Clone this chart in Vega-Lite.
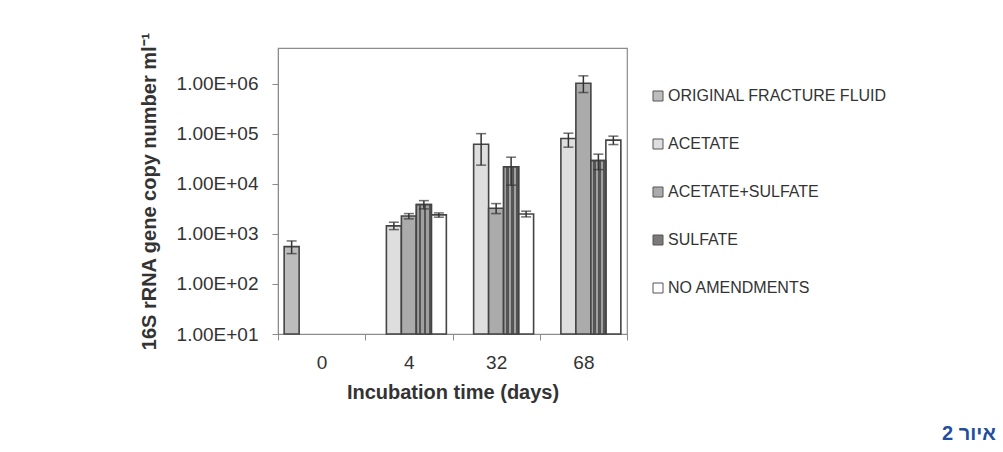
{
  "$schema": "https://vega.github.io/schema/vega-lite/v6.json",
  "width": 349,
  "height": 286,
  "autosize": {"type": "none"},
  "padding": {"left": 278, "top": 48, "right": 376, "bottom": 118},
  "background": "white",
  "config": {
    "font": "Liberation Sans",
    "view": {"stroke": "#8c8c8c", "strokeWidth": 1.2}
  },
  "title": {
    "text": "איור 2",
    "orient": "bottom",
    "anchor": "end",
    "frame": "group",
    "color": "#1f4ea0",
    "fontSize": 20,
    "fontWeight": "bold",
    "font": "Liberation Sans",
    "dx": 369,
    "offset": 22
  },
  "data": {
    "values": [
      {"day": 0, "series": "ORIGINAL FRACTURE FLUID", "value": 557, "lo": 404, "hi": 724},
      {"day": 4, "series": "ACETATE", "value": 1450, "lo": 1220, "hi": 1715},
      {"day": 4, "series": "ACETATE+SULFATE", "value": 2290, "lo": 2000, "hi": 2550},
      {"day": 4, "series": "SULFATE", "value": 3850, "lo": 3160, "hi": 4630},
      {"day": 4, "series": "NO AMENDMENTS", "value": 2400, "lo": 2160, "hi": 2630},
      {"day": 32, "series": "ACETATE", "value": 62000, "lo": 23700, "hi": 101000},
      {"day": 32, "series": "ACETATE+SULFATE", "value": 3270, "lo": 2550, "hi": 4040},
      {"day": 32, "series": "SULFATE", "value": 21900, "lo": 9420, "hi": 34200},
      {"day": 32, "series": "NO AMENDMENTS", "value": 2510, "lo": 2190, "hi": 2850},
      {"day": 68, "series": "ACETATE", "value": 80500, "lo": 54200, "hi": 103000},
      {"day": 68, "series": "ACETATE+SULFATE", "value": 1030000, "lo": 670000, "hi": 1445000},
      {"day": 68, "series": "SULFATE", "value": 29200, "lo": 19300, "hi": 39300},
      {"day": 68, "series": "NO AMENDMENTS", "value": 74800, "lo": 61100, "hi": 90000}
    ]
  },
  "encoding": {
    "x": {
      "field": "day",
      "type": "ordinal",
      "scale": {"paddingInner": 0, "paddingOuter": 0},
      "axis": {
        "title": "Incubation time (days)",
        "labelAngle": 0,
        "tickBand": "extent",
        "tickSize": 6,
        "labelPadding": 13,
        "labelFontSize": 19,
        "labelColor": "#333333",
        "titleFontSize": 20,
        "titleFontWeight": "bold",
        "titleColor": "#333333",
        "titlePadding": 10,
        "domainColor": "#8c8c8c",
        "tickColor": "#8c8c8c"
      }
    },
    "xOffset": {
      "field": "series",
      "type": "nominal",
      "sort": ["ORIGINAL FRACTURE FLUID", "ACETATE", "ACETATE+SULFATE", "SULFATE", "NO AMENDMENTS"],
      "scale": {"paddingInner": 0, "paddingOuter": 0.41}
    }
  },
  "layer": [
    {
      "mark": {"type": "bar", "stroke": "#444444", "strokeWidth": 1.6},
      "encoding": {
        "y": {
          "field": "value",
          "type": "quantitative",
          "stack": null,
          "scale": {"type": "log", "domain": [10, 5200000], "nice": false},
          "axis": {
            "title": "16S rRNA gene copy number ml⁻¹",
            "values": [10, 100, 1000, 10000, 100000, 1000000],
            "labelExpr": "'1.00E+' + (round(log(datum.value)/LN10) < 10 ? '0' : '') + round(log(datum.value)/LN10)",
            "grid": false,
            "tickSize": 6,
            "labelPadding": 14,
            "labelFontSize": 19,
            "labelColor": "#333333",
            "titleFontSize": 20,
            "titleFontWeight": "bold",
            "titleColor": "#333333",
            "titlePadding": 17,
            "domainColor": "#8c8c8c",
            "tickColor": "#8c8c8c"
          }
        },
        "y2": {"datum": 10},
        "fill": {
          "field": "series",
          "type": "nominal",
          "scale": {
            "domain": ["ORIGINAL FRACTURE FLUID", "ACETATE", "ACETATE+SULFATE", "SULFATE", "NO AMENDMENTS"],
            "range": ["#bdbdbd", "#dedede", "#ababab", "#7a7a7a", "#ffffff"]
          },
          "legend": {
            "orient": "none",
            "legendX": 372,
            "legendY": 40,
            "title": null,
            "padding": 0,
            "labelFontSize": 16,
            "labelLimit": 400,
            "labelColor": "#333333",
            "labelOffset": 2,
            "symbolType": "square",
            "symbolSize": 100,
            "symbolStrokeColor": "#555555",
            "symbolStrokeWidth": 1,
            "rowPadding": 32
          }
        }
      }
    },
    {
      "transform": [{"filter": "datum.series === 'SULFATE'"}],
      "mark": {
        "type": "bar",
        "stroke": "#444444",
        "strokeWidth": 1.6,
        "fill": {
          "gradient": "linear",
          "x1": 0, "x2": 1, "y1": 0, "y2": 0,
          "stops": [
            {"offset": 0, "color": "#a0a0a0"},
            {"offset": 0.17, "color": "#a0a0a0"},
            {"offset": 0.17, "color": "#555555"},
            {"offset": 0.33, "color": "#555555"},
            {"offset": 0.33, "color": "#a0a0a0"},
            {"offset": 0.5, "color": "#a0a0a0"},
            {"offset": 0.5, "color": "#555555"},
            {"offset": 0.67, "color": "#555555"},
            {"offset": 0.67, "color": "#a0a0a0"},
            {"offset": 0.83, "color": "#a0a0a0"},
            {"offset": 0.83, "color": "#555555"},
            {"offset": 1, "color": "#555555"}
          ]
        }
      },
      "encoding": {
        "y": {"field": "value", "type": "quantitative", "stack": null, "title": "16S rRNA gene copy number ml⁻¹"},
        "y2": {"datum": 10}
      }
    },
    {
      "mark": {"type": "rule", "color": "#333333", "strokeWidth": 1.5},
      "encoding": {
        "y": {"field": "lo", "type": "quantitative", "title": "16S rRNA gene copy number ml⁻¹"},
        "y2": {"field": "hi"}
      }
    },
    {
      "mark": {"type": "tick", "color": "#333333", "thickness": 1.5, "size": 10},
      "encoding": {
        "y": {"field": "lo", "type": "quantitative", "title": "16S rRNA gene copy number ml⁻¹"}
      }
    },
    {
      "mark": {"type": "tick", "color": "#333333", "thickness": 1.5, "size": 10},
      "encoding": {
        "y": {"field": "hi", "type": "quantitative", "title": "16S rRNA gene copy number ml⁻¹"}
      }
    }
  ]
}
